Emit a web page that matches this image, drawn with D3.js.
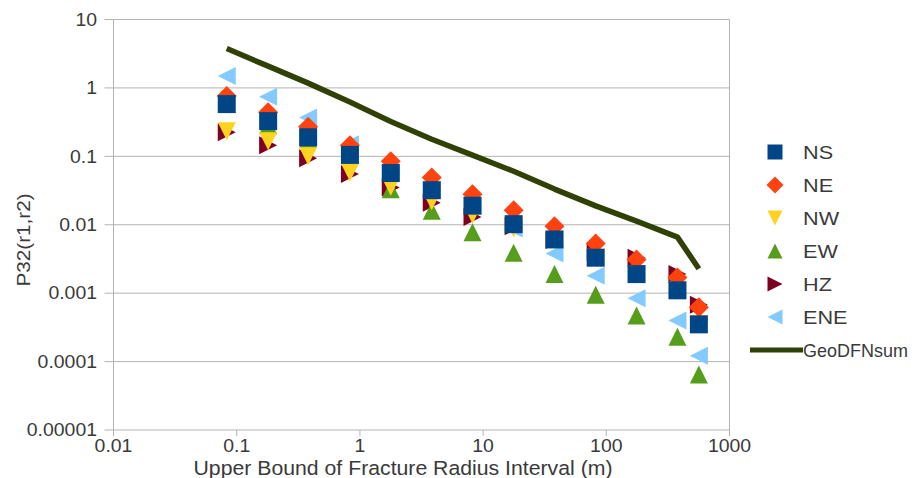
<!DOCTYPE html>
<html>
<head>
<meta charset="utf-8">
<script src="https://cdn.jsdelivr.net/npm/d3@7"></script>
<style>
  body { margin: 0; background: #ffffff; }
  svg { display: block; }
  text { font-family: "Liberation Sans", Arial, sans-serif; fill: #3a3a3a; }
</style>
</head>
<body>
<svg id="chart" width="922" height="478"></svg>
<script>
// Upper bound of each fracture radius interval (m)
const radius = [0.083, 0.18, 0.38, 0.83, 1.78, 3.83, 8.2, 17.7, 38, 82, 176, 378, 564];

// P32(r1,r2) per fracture set
const ns  = [0.58, 0.327, 0.19, 0.105, 0.057, 0.032, 0.019, 0.0102, 0.0061, 0.0033, 0.0019, 0.0011, 0.00035];
const ne  = [0.76, 0.44, 0.27, 0.145, 0.085, 0.049, 0.028, 0.0163, 0.0095, 0.0053, 0.0031, 0.0017, 0.00062];
const nw  = [0.233, 0.166, 0.1, 0.058, 0.036, 0.022, 0.014, 0.0089, 0.006, 0.0033, 0.0019, 0.0011, 0.00035];
const ew  = [0.58, 0.285, 0.18, 0.105, 0.033, 0.016, 0.0078, 0.0039, 0.0019, 0.00095, 0.00047, 0.00023, 0.000065];
const hz  = [0.225, 0.145, 0.094, 0.055, 0.035, 0.021, 0.013, 0.0095, 0.006, 0.004, 0.0033, 0.0019, 0.00068];
const ene = [1.49, 0.74, 0.37, 0.15, 0.057, 0.032, 0.019, 0.0088, 0.0038, 0.0018, 0.00084, 0.0004, 0.000122];
const geoDFNsum = [3.76, 2.08, 1.175, 0.62, 0.323, 0.178, 0.104, 0.0605, 0.0332, 0.0189, 0.0113, 0.0066, 0.00228];

const seriesNames = ["NS", "NE", "NW", "EW", "HZ", "ENE"];
const lineName = "GeoDFNsum";

const xTicks = [0.01, 0.1, 1, 10, 100, 1000];
const xTickLabels = ["0.01", "0.1", "1", "10", "100", "1000"];
const yTicks = [1e-5, 1e-4, 1e-3, 1e-2, 1e-1, 1, 10];
const yTickLabels = ["0.00001", "0.0001", "0.001", "0.01", "0.1", "1", "10"];

const xTitle = "Upper Bound of Fracture Radius Interval (m)";
const yTitle = "P32(r1,r2)";

// ---- layout ----
const plotLeft = 113.5, plotRight = 729.5, plotTop = 19.5, plotBottom = 430;
const svg = d3.select("#chart");

const x = d3.scaleLog().domain([0.01, 1000]).range([plotLeft, plotRight]);
const y = d3.scaleLog().domain([1e-5, 10]).range([plotBottom, plotTop]);

const gridColor = "#b3b3b3";

// horizontal gridlines (with short outer tick)
svg.append("g").selectAll("line").data(yTicks).join("line")
  .attr("x1", plotLeft - 9).attr("x2", plotRight)
  .attr("y1", d => y(d)).attr("y2", d => y(d))
  .attr("stroke", gridColor).attr("stroke-width", 1);

// left axis and right frame
svg.append("line").attr("x1", plotLeft).attr("x2", plotLeft).attr("y1", plotTop).attr("y2", plotBottom + 6)
  .attr("stroke", gridColor);
svg.append("line").attr("x1", plotRight).attr("x2", plotRight).attr("y1", plotTop).attr("y2", plotBottom + 6)
  .attr("stroke", gridColor);

// x ticks
svg.append("g").selectAll("line").data(xTicks).join("line")
  .attr("x1", d => x(d)).attr("x2", d => x(d))
  .attr("y1", plotBottom).attr("y2", plotBottom + 6)
  .attr("stroke", gridColor);

// text helper: glyphs slightly widened along the text direction
function label(g, str, tx, ty, opts) {
  const o = Object.assign({ size: 18, sx: 1.08, anchor: "start", rot: 0 }, opts || {});
  const t = g.append("g")
    .attr("transform", `translate(${tx},${ty}) rotate(${o.rot}) scale(${o.sx},1)`)
    .append("text")
    .attr("text-anchor", o.anchor)
    .attr("dominant-baseline", "central")
    .style("font-size", o.size + "px")
    .text(str);
  return t;
}

// y tick labels
const yLab = svg.append("g");
yTicks.forEach((v, i) => label(yLab, yTickLabels[i], 97, y(v), { anchor: "end" }));

// x tick labels
const xLab = svg.append("g");
xTicks.forEach((v, i) => label(xLab, xTickLabels[i], x(v), 446, { anchor: "middle" }));

// axis titles
label(svg, xTitle, 403, 468.5, { anchor: "middle", size: 19.5, sx: 1.09 });
label(svg, yTitle, 23, 240, { anchor: "middle", size: 19, sx: 1.09, rot: -90 });

// ---- marker shapes ----
const shapes = {
  square: h => `M${-h},${-h}H${h}V${h}H${-h}Z`,
  diamond: h => `M0,${-h - 1}L${h + 1},0L0,${h + 1}L${-h - 1},0Z`,
  down: h => `M${-h},${-h}L${h},${-h}L0,${h}Z`,
  up: h => `M0,${-h}L${h},${h}L${-h},${h}Z`,
  right: h => `M${-h},${-h}L${h},0L${-h},${h}Z`,
  left: h => `M${h},${-h}L${-h},0L${h},${h}Z`
};

const series = [
  { name: seriesNames[0], values: ns,  color: "#004586", shape: "square" },
  { name: seriesNames[1], values: ne,  color: "#ff420e", shape: "diamond" },
  { name: seriesNames[2], values: nw,  color: "#ffd320", shape: "down" },
  { name: seriesNames[3], values: ew,  color: "#579d1c", shape: "up" },
  { name: seriesNames[4], values: hz,  color: "#7e0021", shape: "right" },
  { name: seriesNames[5], values: ene, color: "#83caff", shape: "left" }
];
const lineColor = "#314004";

// summed density line
const line = d3.line().x((d, i) => x(radius[i])).y(d => y(d));
svg.append("path").datum(geoDFNsum)
  .attr("d", line)
  .attr("fill", "none")
  .attr("stroke", lineColor)
  .attr("stroke-width", 5.5)
  .attr("stroke-linejoin", "round");

// point series: the first set ends up on top
const plot = svg.append("g");
series.slice().reverse().forEach(s => {
  plot.append("g").selectAll("path").data(s.values).join("path")
    .attr("transform", (d, i) => `translate(${x(radius[i])},${y(d)})`)
    .attr("d", shapes[s.shape](9))
    .attr("fill", s.color);
});

// ---- legend ----
const legend = svg.append("g");
const legendY = d3.scalePoint().domain([...seriesNames, lineName]).range([152, 350]);
series.forEach(s => {
  legend.append("path")
    .attr("transform", `translate(775,${legendY(s.name)})`)
    .attr("d", shapes[s.shape](7.5))
    .attr("fill", s.color);
  label(legend, s.name, 803, legendY(s.name), { size: 19, sx: 1.14 });
});
legend.append("line")
  .attr("x1", 750).attr("x2", 803)
  .attr("y1", legendY(lineName)).attr("y2", legendY(lineName))
  .attr("stroke", lineColor).attr("stroke-width", 5);
label(legend, lineName, 803, legendY(lineName), { size: 19, sx: 1.0 })
  .attr("textLength", 105).attr("lengthAdjust", "spacingAndGlyphs");
</script>
</body>
</html>
